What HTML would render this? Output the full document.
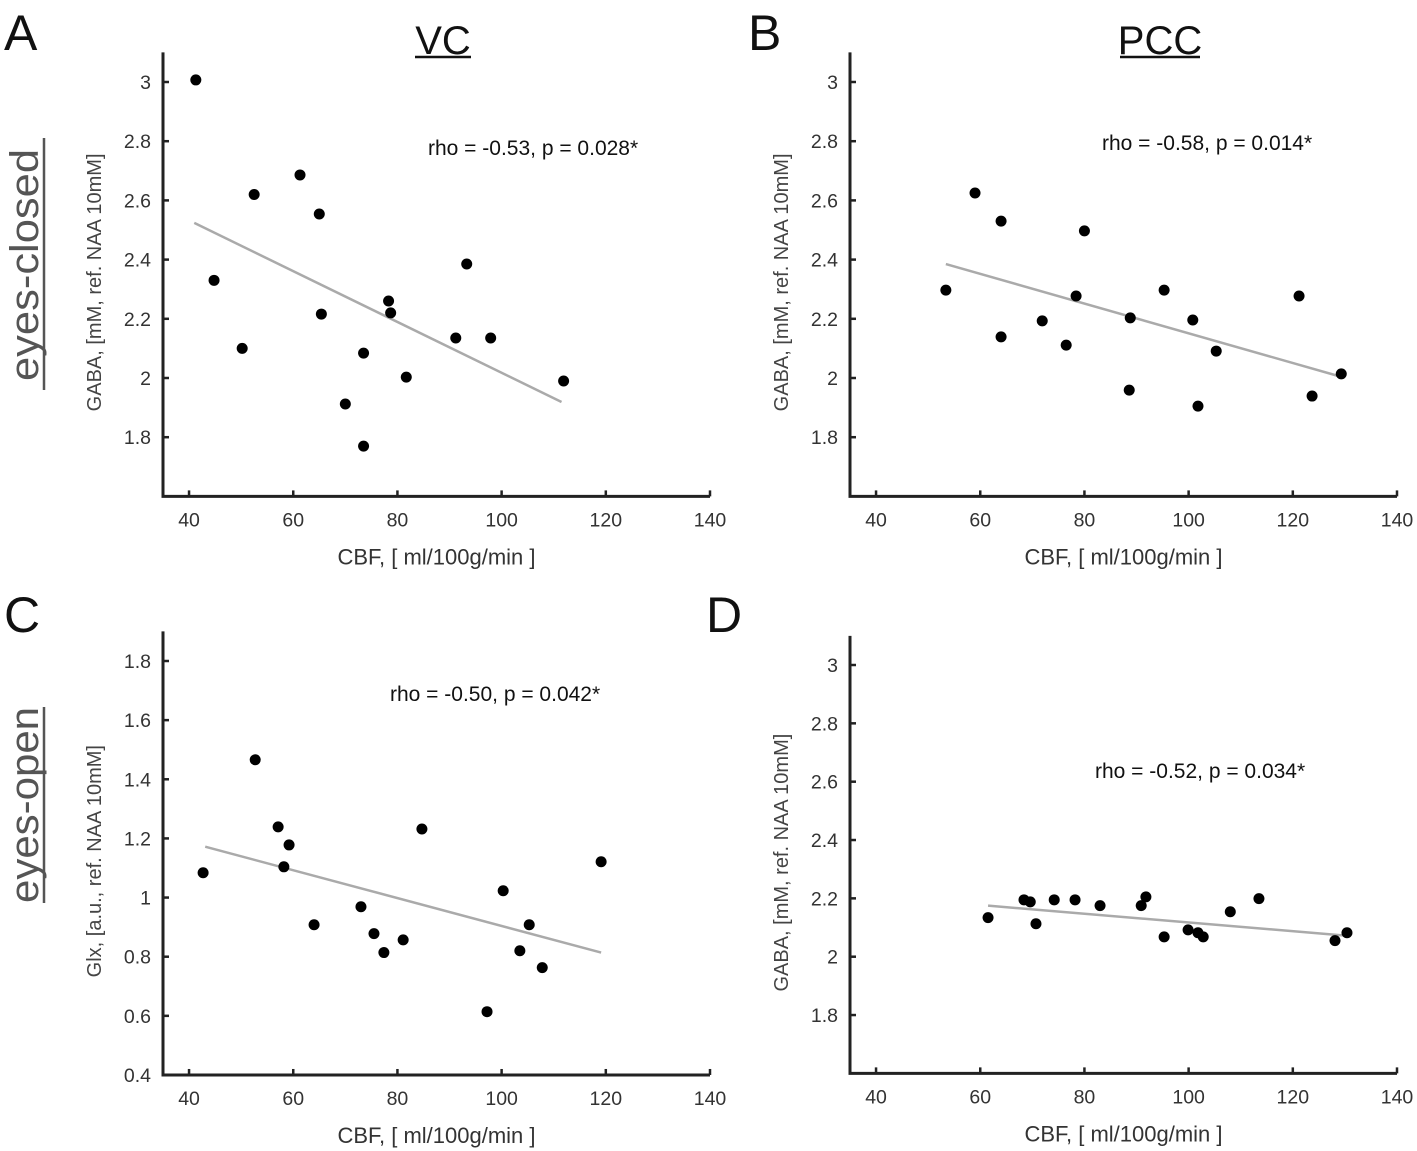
<!DOCTYPE html>
<html><head><meta charset="utf-8"><style>
html,body{margin:0;padding:0;background:#fff;}
svg{display:block;font-family:"Liberation Sans","DejaVu Sans",sans-serif;}
</style></head><body>
<svg id="fig" width="1417" height="1151" viewBox="0 0 1417 1151">
<text x="4" y="50" font-size="50" fill="#111">A</text>
<text x="748" y="50" font-size="50" fill="#111">B</text>
<text x="4" y="632" font-size="50" fill="#111">C</text>
<text x="706" y="632" font-size="50" fill="#111">D</text>
<text x="443" y="54" font-size="40" fill="#111" text-anchor="middle">VC</text>
<line x1="415" y1="57" x2="471" y2="57" stroke="#111" stroke-width="2.5"/>
<text x="1160" y="54" font-size="40" fill="#111" text-anchor="middle">PCC</text>
<line x1="1120" y1="57" x2="1200" y2="57" stroke="#111" stroke-width="2.5"/>
<text transform="translate(38,265) rotate(-90)" font-size="40" fill="#555" text-anchor="middle" textLength="232" lengthAdjust="spacingAndGlyphs">eyes-closed</text>
<line x1="44" y1="138" x2="44" y2="390" stroke="#555" stroke-width="2.5"/>
<text transform="translate(38,805) rotate(-90)" font-size="40" fill="#555" text-anchor="middle" textLength="196" lengthAdjust="spacingAndGlyphs">eyes-open</text>
<line x1="44" y1="707" x2="44" y2="903" stroke="#555" stroke-width="2.5"/>
</svg>
<script>
// Panel A (VC, eyes-closed)
const aCBF = [41.3,52.5,61.3,65,44.8,50.2,65.4,78.3,78.7,93.3,91.2,97.9,73.5,81.7,70,73.5,111.9];
const aGABA = [3.007,2.62,2.686,2.554,2.33,2.10,2.216,2.26,2.22,2.385,2.135,2.135,2.084,2.003,1.912,1.77,1.99];
const aFitX = [41,111.5];
const aFitY = [2.524,1.919];
// Panel B (PCC, eyes-closed)
const bCBF = [53.4,59,64,64,71.9,76.5,78.4,80,88.8,88.6,95.3,100.8,101.8,105.3,121.2,123.7,129.3];
const bGABA = [2.297,2.625,2.53,2.139,2.193,2.111,2.277,2.497,2.203,1.959,2.297,2.196,1.905,2.091,2.277,1.939,2.014];
const bFitX = [53.4,129.5];
const bFitY = [2.385,2.003];
// Panel C (VC, eyes-open)
const cCBF = [42.7,52.7,57.1,59.2,58.2,64,73,75.5,77.4,81.1,84.7,97.2,100.3,103.5,105.3,107.8,119.1];
const cGlx = [1.084,1.466,1.239,1.178,1.104,0.908,0.969,0.878,0.814,0.857,1.232,0.614,1.023,0.820,0.908,0.763,1.121];
const cFitX = [43.1,119.1];
const cFitY = [1.172,0.814];
// Panel D (PCC, eyes-open)
const dCBF = [61.5,68.4,69.6,70.7,74.2,78.2,83,90.9,91.8,95.3,99.9,101.8,102.8,108,113.5,128.1,130.4];
const dGABA = [2.134,2.195,2.188,2.113,2.195,2.195,2.175,2.175,2.205,2.068,2.092,2.082,2.068,2.154,2.199,2.055,2.082];
const dFitX = [61.5,130.4];
const dFitY = [2.175,2.072];

const xTicks = [40,60,80,100,120,140];
const gabaTicks = [1.8,2,2.2,2.4,2.6,2.8,3];
const glxTicks = [0.4,0.6,0.8,1,1.2,1.4,1.6,1.8];

const NS = "http://www.w3.org/2000/svg";
const svg = document.getElementById('fig');
function mk(tag, attrs, parent){
  const e = document.createElementNS(NS, tag);
  for (const k in attrs) e.setAttribute(k, attrs[k]);
  (parent||svg).appendChild(e);
  return e;
}
function panel(cfg){
  const g = mk('g', {});
  
  
  const xs = v => cfg.left + (v-35)/(140-35)*(cfg.right-cfg.left);
  const ys = v => cfg.yRef + (cfg.yRefVal - v)*cfg.ppu;
  const top = ys(cfg.yMax), bottom = ys(cfg.yMin);
  const ax = mk('path', {d:`M${cfg.left},${top} L${cfg.left},${bottom} L${cfg.right},${bottom}`, fill:'none', stroke:'#222', 'stroke-width':3}, g);
  
  
  xTicks.forEach(t => {
    const x = xs(t);
    mk('line', {x1:x, y1:bottom, x2:x, y2:bottom-6, stroke:'#222', 'stroke-width':2.5}, g);
    const tx = mk('text', {x:x, y:bottom+30, 'font-size':19.5, fill:'#333', 'text-anchor':'middle'}, g);
    tx.textContent = t;
    
    
  });
  cfg.yTicks.forEach(t => {
    const y = ys(t);
    mk('line', {x1:cfg.left, y1:y, x2:cfg.left+6, y2:y, stroke:'#222', 'stroke-width':2.5}, g);
    const tx = mk('text', {x:cfg.left-12, y:y+7, 'font-size':19.5, fill:'#333', 'text-anchor':'end'}, g);
    tx.textContent = String(t);
    
    
  });
  const xl = mk('text', {x:(cfg.left+cfg.right)/2, y:bottom+68, 'font-size':22, fill:'#333', 'text-anchor':'middle'}, g);
  xl.textContent = 'CBF, [ ml/100g/min ]';
  
  
  const yl = mk('text', {transform:`translate(${cfg.left-62},${(top+bottom)/2+8}) rotate(-90)`, 'font-size':20, fill:'#444', 'text-anchor':'middle'}, g);
  yl.textContent = cfg.ylabel;
  
  
  const fl = mk('line', {x1:xs(cfg.fx[0]), y1:ys(cfg.fy[0]), x2:xs(cfg.fx[1]), y2:ys(cfg.fy[1]), stroke:'#aaa', 'stroke-width':2.5}, g);
  
  
  cfg.xv.forEach((v,i) => {
    const c = mk('circle', {cx:xs(v), cy:ys(cfg.yv[i]), r:5.5, fill:'#000'}, g);
    
    
  });
  const an = mk('text', {x:cfg.ax, y:cfg.ay, 'font-size':21, fill:'#111'}, g);
  an.textContent = cfg.annot;
  
  
}
const gabaLabel = 'GABA, [mM, ref. NAA 10mM]';
panel({name:'panel-a', left:163, right:710, yRef:82, yRefVal:3, ppu:296, yMin:1.6, yMax:3.1, yTicks:gabaTicks, ylabel:gabaLabel, xv:aCBF, yv:aGABA, fx:aFitX, fy:aFitY, annot:'rho = -0.53, p = 0.028*', ax:428, ay:155});
panel({name:'panel-b', left:850, right:1397, yRef:82, yRefVal:3, ppu:296, yMin:1.6, yMax:3.1, yTicks:gabaTicks, ylabel:gabaLabel, xv:bCBF, yv:bGABA, fx:bFitX, fy:bFitY, annot:'rho = -0.58, p = 0.014*', ax:1102, ay:150});
panel({name:'panel-c', left:163, right:710, yRef:661, yRefVal:1.8, ppu:295.7, yMin:0.4, yMax:1.9, yTicks:glxTicks, ylabel:'Glx, [a.u., ref. NAA 10mM]', xv:cCBF, yv:cGlx, fx:cFitX, fy:cFitY, annot:'rho = -0.50, p = 0.042*', ax:390, ay:701});
panel({name:'panel-d', left:850, right:1397, yRef:665, yRefVal:3, ppu:291.7, yMin:1.6, yMax:3.1, yTicks:gabaTicks, ylabel:gabaLabel, xv:dCBF, yv:dGABA, fx:dFitX, fy:dFitY, annot:'rho = -0.52, p = 0.034*', ax:1095, ay:778});
</script>
</body></html>
